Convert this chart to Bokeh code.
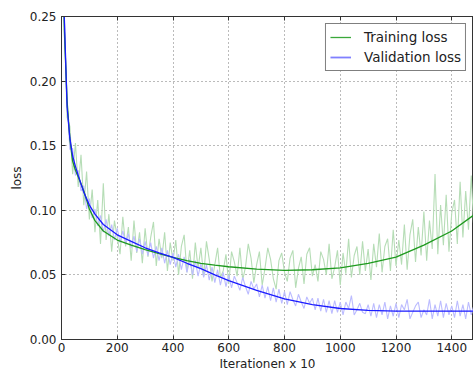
from bokeh.plotting import figure
from bokeh.models import Range1d, LinearAxis, FixedTicker, Legend, LegendItem, CustomJSTickFormatter
from bokeh.embed import file_html
from bokeh.resources import INLINE

# raw (noisy) loss, every 10 iterations from 10 to 1480
raw_iter = list(range(10, 1481, 10))
train_raw = [
    0.250, 0.172, 0.165, 0.128, 0.152, 0.118, 0.143, 0.104, 0.130, 0.093,
    0.116, 0.083, 0.108, 0.074, 0.121, 0.077, 0.097, 0.068, 0.092, 0.079,
    0.066, 0.095, 0.072, 0.087, 0.061, 0.092, 0.067, 0.083, 0.059, 0.086,
    0.064, 0.079, 0.091, 0.057, 0.078, 0.063, 0.083, 0.053, 0.075, 0.061,
    0.077, 0.050, 0.072, 0.081, 0.052, 0.069, 0.047, 0.075, 0.055, 0.071,
    0.049, 0.076, 0.062, 0.045, 0.058, 0.071, 0.048, 0.053, 0.066, 0.043,
    0.068, 0.060, 0.049, 0.071, 0.046, 0.056, 0.074, 0.063, 0.044, 0.058,
    0.068, 0.042, 0.055, 0.071, 0.062, 0.047, 0.039, 0.061, 0.067, 0.052,
    0.045, 0.063, 0.069, 0.040, 0.055, 0.064, 0.043, 0.066, 0.071, 0.049,
    0.058, 0.045, 0.068, 0.062, 0.050, 0.074, 0.047, 0.056, 0.069, 0.042,
    0.067, 0.051, 0.078, 0.048, 0.065, 0.072, 0.050, 0.076, 0.053, 0.070,
    0.046, 0.074, 0.056, 0.082, 0.052, 0.072, 0.078, 0.053, 0.085, 0.057,
    0.077, 0.058, 0.089, 0.054, 0.081, 0.093, 0.060, 0.087, 0.065, 0.099,
    0.061, 0.092, 0.070, 0.128, 0.066, 0.104, 0.073, 0.112, 0.068, 0.098,
    0.108, 0.074, 0.122, 0.079, 0.115, 0.085, 0.127, 0.081,
]
val_raw = [
    0.250, 0.185, 0.147, 0.148, 0.127, 0.131, 0.115, 0.119, 0.101, 0.109,
    0.094, 0.101, 0.088, 0.096, 0.083, 0.093, 0.080, 0.089, 0.077, 0.086,
    0.075, 0.084, 0.074, 0.082, 0.071, 0.080, 0.068, 0.078, 0.066, 0.076,
    0.065, 0.075, 0.063, 0.072, 0.061, 0.071, 0.059, 0.069, 0.058, 0.067,
    0.056, 0.066, 0.054, 0.064, 0.052, 0.062, 0.050, 0.061, 0.049, 0.059,
    0.048, 0.058, 0.046, 0.056, 0.044, 0.054, 0.042, 0.052, 0.041, 0.050,
    0.040, 0.049, 0.044, 0.038, 0.048, 0.041, 0.035, 0.045, 0.039, 0.043,
    0.033, 0.042, 0.032, 0.041, 0.030, 0.040, 0.029, 0.039, 0.028, 0.037,
    0.027, 0.037, 0.031, 0.026, 0.035, 0.029, 0.024, 0.033, 0.028, 0.032,
    0.023, 0.032, 0.022, 0.031, 0.021, 0.030, 0.020, 0.030, 0.021, 0.029,
    0.019, 0.029, 0.024, 0.034, 0.019, 0.023, 0.028, 0.021, 0.020, 0.027,
    0.018, 0.028, 0.017, 0.027, 0.019, 0.029, 0.016, 0.026, 0.018, 0.028,
    0.017, 0.027, 0.023, 0.031, 0.016, 0.021, 0.026, 0.029, 0.017, 0.023,
    0.019, 0.031, 0.016, 0.027, 0.018, 0.030, 0.017, 0.028, 0.019, 0.026,
    0.017, 0.030, 0.018, 0.027, 0.016, 0.029, 0.019, 0.027,
]

# smoothed curves
smooth_iter = [5, 10, 20, 30, 40, 50, 60, 80, 100, 120, 150, 200, 250, 300, 350, 400,
               450, 500, 550, 600, 700, 800, 900, 1000, 1100, 1200, 1300, 1400, 1480]
train_smooth = [0.30, 0.24, 0.185, 0.155, 0.138, 0.131, 0.126, 0.115, 0.101, 0.092,
                0.084, 0.077, 0.073, 0.0695, 0.0665, 0.0635, 0.061, 0.059, 0.0575,
                0.0563, 0.0545, 0.0535, 0.054, 0.0555, 0.059, 0.0637, 0.073, 0.084, 0.0965]
val_smooth = [0.31, 0.25, 0.18, 0.156, 0.142, 0.134, 0.127, 0.114, 0.104, 0.097,
              0.089, 0.081, 0.076, 0.071, 0.067, 0.0635, 0.059, 0.0548, 0.050,
              0.0455, 0.038, 0.0315, 0.027, 0.024, 0.0225, 0.022, 0.022, 0.022, 0.022]

x_ticks = [0, 200, 400, 600, 800, 1000, 1200, 1400]
y_ticks = [0.00, 0.05, 0.10, 0.15, 0.20, 0.25]

FONT = "DejaVu Sans"

p = figure(width=473, height=373, output_backend="svg", toolbar_location=None,
           x_range=Range1d(0, 1478), y_range=Range1d(0, 0.25),
           min_border_left=61, min_border_right=0, min_border_top=16, min_border_bottom=34)
p.background_fill_color = "white"
p.border_fill_color = "white"
p.outline_line_color = "#333333"
p.outline_line_width = 1

p.line(raw_iter, train_raw, line_color="#b6ddb6", line_width=1.1)
p.line(raw_iter, val_raw, line_color="#bcbcff", line_width=1.1)
p.line(smooth_iter, train_smooth, line_color="#1e9a1e", line_width=1.3)
p.line(smooth_iter, val_smooth, line_color="#1a1aff", line_width=1.3)

nan = float("nan")
lt = p.line([nan], [nan], line_color="#3aa83a", line_width=1.3)
lv = p.line([nan], [nan], line_color="#8080ff", line_width=1.8)
legend = Legend(items=[LegendItem(label="Training loss", renderers=[lt]),
                       LegendItem(label="Validation loss", renderers=[lv])],
                location="top_right")
legend.label_text_font = FONT
legend.label_text_font_size = "13.5px"
legend.label_text_color = "#222222"
legend.border_line_color = "black"
legend.border_line_width = 1
legend.background_fill_alpha = 1
legend.glyph_width = 21
legend.glyph_height = 18
legend.label_standoff = 13
legend.padding = 4
legend.spacing = 2
legend.margin = 7
legend.label_height = 18
p.add_layout(legend, "center")

for ax in (p.xaxis[0], p.yaxis[0]):
    ax.major_label_text_font = FONT
    ax.major_label_text_font_size = "12px"
    ax.major_label_text_color = "#222222"
    ax.axis_label_text_font = FONT
    ax.axis_label_text_font_size = "12px"
    ax.axis_label_text_font_style = "normal"
    ax.axis_label_text_color = "#222222"
    ax.major_tick_in = 4
    ax.major_tick_out = 0
    ax.minor_tick_in = 0
    ax.minor_tick_out = 0
    ax.axis_line_color = "#333333"
    ax.major_tick_line_color = "#333333"

p.xaxis[0].ticker = FixedTicker(ticks=x_ticks)
p.yaxis[0].ticker = FixedTicker(ticks=y_ticks)
p.xaxis[0].axis_label = "Iterationen x 10"
p.yaxis[0].axis_label = "loss"
p.xaxis[0].major_label_standoff = 3
p.xaxis[0].axis_label_standoff = 2
p.yaxis[0].major_label_standoff = 5
p.yaxis[0].axis_label_standoff = 3
p.yaxis[0].formatter = CustomJSTickFormatter(code="return tick.toFixed(2);")

# tick marks on the top spine (no labels)
top = LinearAxis(ticker=FixedTicker(ticks=x_ticks),
                 formatter=CustomJSTickFormatter(code="return '';"),
                 major_label_standoff=0, major_tick_in=4, major_tick_out=0,
                 minor_tick_in=0, minor_tick_out=0, axis_line_color="#333333",
                 major_tick_line_color="#333333")
p.add_layout(top, "above")

p.xgrid.ticker = FixedTicker(ticks=x_ticks)
p.ygrid.ticker = FixedTicker(ticks=y_ticks)
for g in (p.xgrid[0], p.ygrid[0]):
    g.grid_line_color = "#555555"
    g.grid_line_dash = "1 3"
    g.grid_line_width = 1
    g.grid_line_alpha = 0.8

open("out.html", "w").write(file_html(p, INLINE))
